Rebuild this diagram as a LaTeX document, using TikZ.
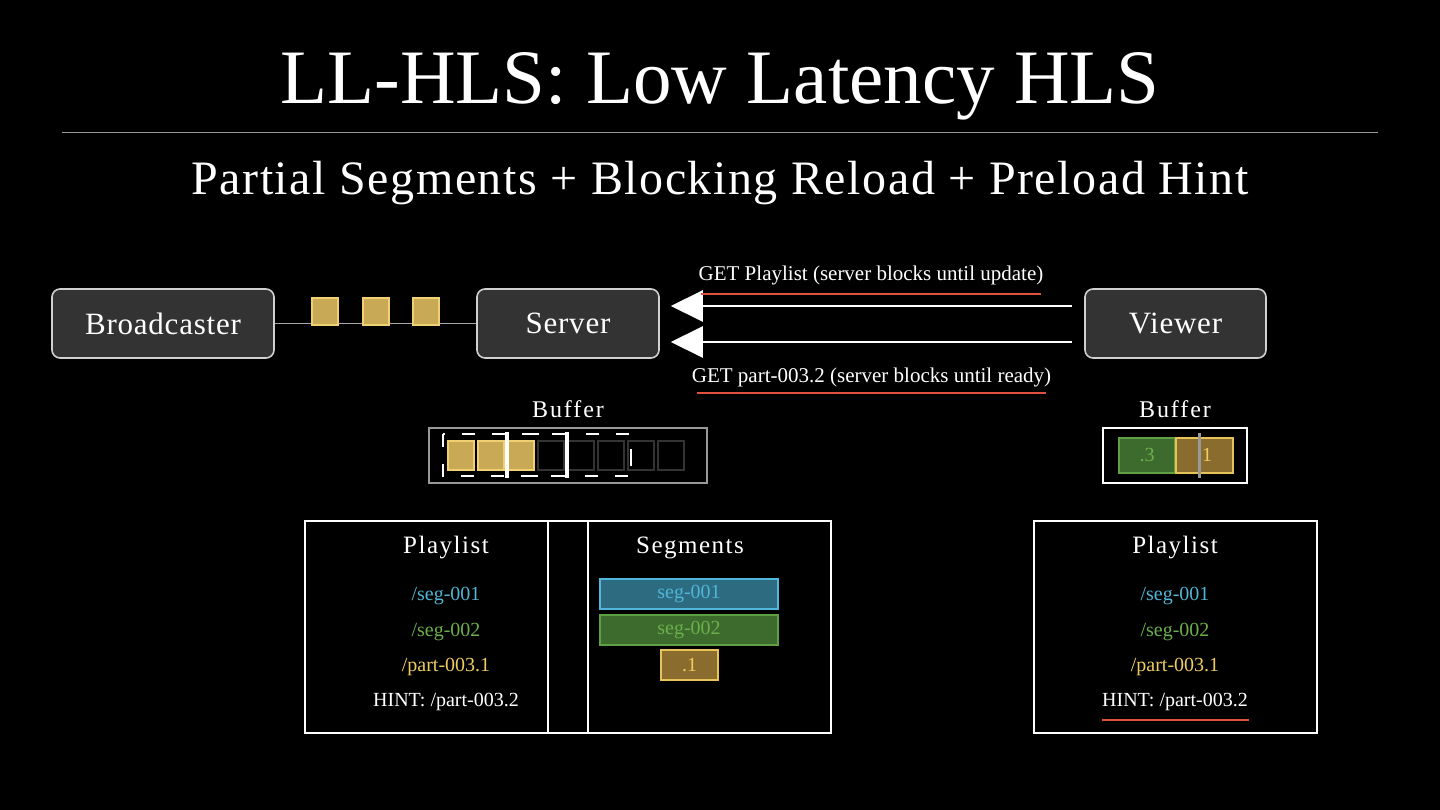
\documentclass[tikz,border=0pt]{standalone}
\usepackage{fontspec}
\setmainfont{Liberation Serif}
\newfontfamily\spacedA[LetterSpace=2.5]{Liberation Serif}
\newfontfamily\spacedB[LetterSpace=3.2]{Liberation Serif}
\newfontfamily\spacedC[LetterSpace=6]{Liberation Serif}
\newfontfamily\spacedD[LetterSpace=8]{Liberation Serif}
\usetikzlibrary{arrows.meta,calc}
\definecolor{nodefill}{HTML}{333333}
\definecolor{nodeedge}{HTML}{D0D0D0}
\definecolor{goldfill}{HTML}{C8A955}
\definecolor{goldedge}{HTML}{F0D070}
\definecolor{cyantxt}{HTML}{4FB6D6}
\definecolor{cyanfill}{HTML}{2D6B80}
\definecolor{cyanedge}{HTML}{4FB8DC}
\definecolor{greentxt}{HTML}{6CB04C}
\definecolor{greenfill}{HTML}{3D6B2E}
\definecolor{greenedge}{HTML}{5FA044}
\definecolor{yellowtxt}{HTML}{F0CC60}
\definecolor{yellowfill}{HTML}{8A6C2E}
\definecolor{yellowedge}{HTML}{E6C45A}
\definecolor{redline}{HTML}{E0503F}
\begin{document}
\begin{tikzpicture}[x=1pt,y=-1pt,
  actor/.style={draw=nodeedge, fill=nodefill, line width=1.6pt, rounded corners=8pt,
    minimum height=69pt, text=white, font=\spacedA\fontsize{31}{36}\selectfont, inner sep=0pt},
  pkt/.style={draw=goldedge, fill=goldfill, line width=2pt, minimum size=26pt, inner sep=0pt},
  bufsq/.style={draw=#1, line width=2pt, minimum width=26pt, minimum height=29pt, inner sep=0pt},
  req/.style={white, line width=2.5pt, -{Triangle[length=32pt,width=31pt]}},
  lbl/.style={text=white, font=\fontsize{21}{24}\selectfont, inner sep=0pt, anchor=base},
  head/.style={text=white, font=\spacedC\fontsize{25}{30}\selectfont, inner sep=0pt, anchor=base},
  item/.style={font=\fontsize{20}{24}\selectfont, inner sep=0pt, anchor=base},
  segbox/.style={line width=1.6pt, minimum height=30pt, inner sep=0pt, font=\fontsize{20}{24}\selectfont},
  panel/.style={draw=white, line width=1.6pt, minimum height=212pt, inner sep=0pt},
  redul/.style={redline, line width=2.5pt}
]
\fill[black] (0,0) rectangle (1440,810);
\useasboundingbox (0,0) rectangle (1440,810);

% titles
\node[text=white, font=\fontsize{77}{90}\selectfont, inner sep=0pt, anchor=base] (title) at (720,104) {LL-HLS: Low Latency HLS};
\draw[gray!80, line width=1pt] (62,133) -- (1378,133);
\node[text=white, font=\spacedB\fontsize{48}{56}\selectfont, inner sep=0pt, anchor=base] (sub) at (720,195) {Partial Segments + Blocking Reload + Preload Hint};

% actors
\node[actor, minimum width=222pt] (bc) at (163,323.5) {Broadcaster};
\node[actor, minimum width=182pt] (srv) at (568,323.5) {Server};
\node[actor, minimum width=181pt] (vw) at (1175.5,323.5) {Viewer};

\draw[gray!70, line width=1.5pt] (bc.east) -- (srv.west);
\node[pkt] (p1) at (325,311.5) {};
\node[pkt] (p2) at (375.5,311.5) {};
\node[pkt] (p3) at (425.5,311.5) {};

% requests
\draw[req] ([xshift=-12pt,yshift=17.5pt]vw.west) -- ([xshift=11pt,yshift=17.5pt]srv.east);
\draw[req] ([xshift=-12pt,yshift=-18.5pt]vw.west) -- ([xshift=11pt,yshift=-18.5pt]srv.east);
\node[lbl] (l1) at (871,281) {GET Playlist (server blocks until update)};
\draw[redul] (701,294) -- (1041,294);
\node[lbl] (l2) at (871.5,382) {GET part-003.2 (server blocks until ready)};
\draw[redul] (697,393) -- (1046,393);

% server buffer
\node[head, font=\spacedD\fontsize{24}{28}\selectfont] (bufl1) at (568,417) {Buffer};
\node[draw=gray!80, line width=1.5pt, minimum width=278pt, minimum height=55pt, inner sep=0pt] (sbuf) at (568,455.5) {};
\foreach \i in {0,1,2} {
  \node[bufsq=goldedge, fill=goldfill] (y\i) at (460.5+30*\i,455) {};
}
\foreach \i in {3,...,7} {
  \node[bufsq=nodefill, fill=black] (d\i) at (460.5+30*\i,455) {};
}
\draw[white, line width=2pt, dash pattern=on 13pt off 17pt] (443,434) rectangle (567,476);
\draw[white, line width=2pt, dash pattern=on 13pt off 17pt] (507,434) rectangle (631,476);
\draw[white, line width=4pt] (507,432) -- (507,478);
\draw[white, line width=4pt] (567,432) -- (567,478);
\draw[white, line width=2pt] (631,453) -- (631,466);

% viewer buffer
\node[head, font=\spacedD\fontsize{24}{28}\selectfont] (bufl2) at (1175,417) {Buffer};
\node[draw=white, line width=1.5pt, minimum width=144pt, minimum height=55pt, inner sep=0pt] (vbuf) at (1175,455.5) {};
\node[segbox, draw=greenedge, fill=greenfill, text=greentxt, minimum width=56pt, minimum height=35pt] (v3) at (1147,455.5) {.3};
\node[segbox, draw=yellowedge, fill=yellowfill, text=yellowtxt, minimum width=57pt, minimum height=35pt] (v1) at (1204.5,455.5) {.1};
\draw[gray!80, line width=3pt] (1199,433) -- (1199,478);

% server playlist panel
\node[panel, minimum width=526pt] (spanel) at (568,627) {};
\draw[white, line width=1.6pt] (548,521) -- (548,733);
\draw[white, line width=1.6pt] (588,521) -- (588,733);
\node[head] (sph) at (446,553) {Playlist};
\node[item, text=cyantxt] (s1) at (446,600) {/seg-001};
\node[item, text=greentxt] (s2) at (446,636) {/seg-002};
\node[item, text=yellowtxt] (s3) at (446,671) {/part-003.1};
\node[item, text=white] (s4) at (446,706) {HINT: /part-003.2};
\node[head] (segh) at (690,553) {Segments};
\node[segbox, draw=cyanedge, fill=cyanfill, text=cyantxt, minimum width=178pt] (sg1) at (689,594) {seg-001};
\node[segbox, draw=greenedge, fill=greenfill, text=greentxt, minimum width=178pt] (sg2) at (689,630) {seg-002};
\node[segbox, draw=yellowedge, fill=yellowfill, text=yellowtxt, minimum width=57pt] (sg3) at (689.5,665) {.1};

% viewer playlist panel
\node[panel, minimum width=283pt] (vpanel) at (1175.5,627) {};
\node[head] (vph) at (1175,553) {Playlist};
\node[item, text=cyantxt] (t1) at (1175,600) {/seg-001};
\node[item, text=greentxt] (t2) at (1175,636) {/seg-002};
\node[item, text=yellowtxt] (t3) at (1175,671) {/part-003.1};
\node[item, text=white] (t4) at (1175,706) {HINT: /part-003.2};
\draw[redul] (1102,720) -- (1249,720);
\end{tikzpicture}
\end{document}
